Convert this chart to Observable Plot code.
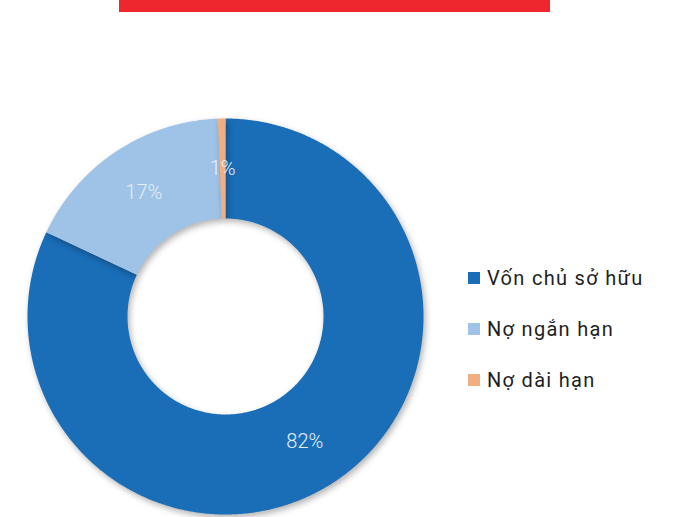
<!DOCTYPE html>
<html>
<head>
<meta charset="utf-8">
<script src="https://cdn.jsdelivr.net/npm/d3@7"></script>
<script src="https://cdn.jsdelivr.net/npm/@observablehq/plot@0.6"></script>
<style>
  html, body { margin: 0; padding: 0; background: #fff; }
  #wrap { position: relative; width: 687px; height: 517px; overflow: hidden; font-family: Roboto, "Noto Sans", sans-serif; }
  #bar { position: absolute; left: 119px; top: 0; width: 431px; height: 12px; background: #EE262E; }
  #chart { position: absolute; left: 0; top: 0; }
  .donut path { filter: drop-shadow(2px 3px 3px rgba(0,0,0,0.3)); }
  #legend { position: absolute; left: 468px; top: 252px; }
  .item { display: flex; align-items: center; height: 51px; font-size: 20px; letter-spacing: 1.3px; color: #1e1e1e; }
  .sw { width: 12px; height: 12px; margin-right: 7px; }
</style>
</head>
<body>
<div id="wrap">
  <div id="chart"></div>
  <div id="bar"></div>
  <div id="legend"></div>
</div>
<script>
const categories = ["Vốn chủ sở hữu", "Nợ ngắn hạn", "Nợ dài hạn"];
const values = [82.0, 17.4, 0.6];
const labels = ["82%", "17%", "1%"];
const colors = ["#1A6EB8", "#9EC3E6", "#F2AE80"];

const innerR = 98 / 198;
const outerR = 1;

const pie = d3.pie().sort(null).value(d => d.value);
const arcs = pie(categories.map((c, i) => ({category: c, value: values[i], label: labels[i]})));

// polygon vertices for each slice (data units, angle clockwise from top)
const pts = [];
for (const a of arcs) {
  const n = Math.max(2, Math.ceil((a.endAngle - a.startAngle) / 0.01));
  for (let k = 0; k <= n; k++) {
    const t = a.startAngle + (a.endAngle - a.startAngle) * k / n;
    pts.push({slice: a.data.category, x: outerR * Math.sin(t), y: outerR * Math.cos(t)});
  }
  for (let k = n; k >= 0; k--) {
    const t = a.startAngle + (a.endAngle - a.startAngle) * k / n;
    pts.push({slice: a.data.category, x: innerR * Math.sin(t), y: innerR * Math.cos(t)});
  }
}
const midR = (innerR + outerR) / 2;
const labelPts = arcs.map(a => {
  const t = (a.startAngle + a.endAngle) / 2;
  return {label: a.data.label, x: midR * Math.sin(t), y: midR * Math.cos(t)};
});

const chart = Plot.plot({
  width: 687,
  height: 517,
  margin: 0,
  x: {domain: [-1, 1], range: [27, 423], axis: null},
  y: {domain: [-1, 1], range: [514, 118], axis: null},
  color: {domain: categories, range: colors},
  marks: [
    Plot.line(pts, {x: "x", y: "y", z: "slice", fill: "slice", stroke: "none", curve: "linear", className: "donut"}),
    Plot.text(labelPts, {x: "x", y: "y", text: "label", fill: "#E6EEF7", fontSize: 20, fontFamily: "Roboto, sans-serif", fontWeight: 300})
  ]
});
document.getElementById("chart").appendChild(chart);

const legend = document.getElementById("legend");
categories.forEach((c, i) => {
  const item = document.createElement("div");
  item.className = "item";
  const sw = document.createElement("div");
  sw.className = "sw";
  sw.style.background = colors[i];
  const tx = document.createElement("span");
  tx.textContent = c;
  item.appendChild(sw);
  item.appendChild(tx);
  legend.appendChild(item);
});
</script>
</body>
</html>
